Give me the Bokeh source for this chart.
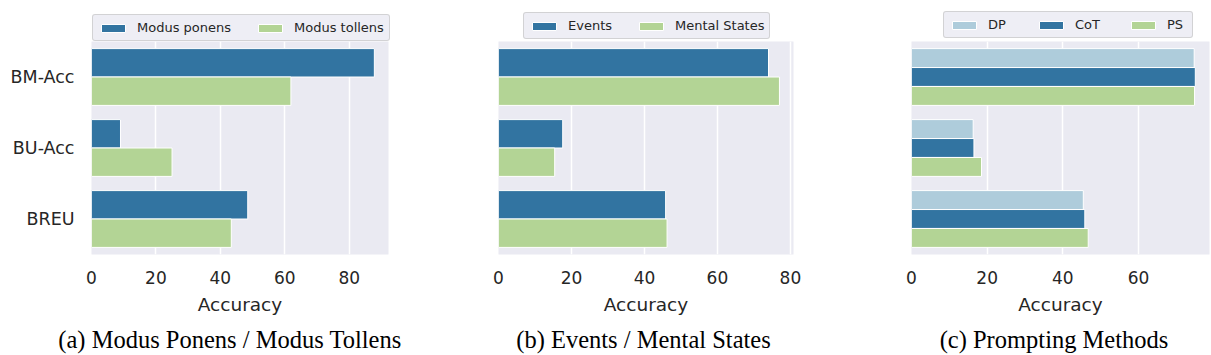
from bokeh.plotting import figure
from bokeh.models import (ColumnDataSource, FactorRange, Range1d, Legend, LegendItem,
                          Label, SingleIntervalTicker)
from bokeh.transform import dodge
from bokeh.layouts import row, column
from bokeh.embed import file_html
from bokeh.resources import INLINE

# ---------------- data ----------------
categories = ["BM-Acc", "BU-Acc", "BREU"]

# (a) Modus Ponens / Modus Tollens
modus_ponens = [87.8, 9.0, 48.5]
modus_tollens = [61.9, 25.0, 43.4]

# (b) Events / Mental States
events = [74.0, 17.6, 45.8]
mental_states = [77.0, 15.4, 46.2]

# (c) Prompting Methods
dp = [74.7, 16.3, 45.4]
cot = [75.0, 16.5, 45.8]
ps = [74.8, 18.5, 46.7]

captions = ["(a) Modus Ponens / Modus Tollens", "(b) Events / Mental States", "(c) Prompting Methods"]
x_label = "Accuracy"

BLUE = "#3274a1"
GREEN = "#b3d495"
LIGHTBLUE = "#aeccdb"
TEXT = "#262626"
SANS = "DejaVu Sans"

TOTAL_W = 1211
LEG_H = 41        # strip holding the legends
CAP_H = 30        # strip holding the captions
MAIN_H = 355 - LEG_H - CAP_H
FRAME_H = 213

panels = [
    dict(series=[modus_ponens, modus_tollens], names=["Modus ponens", "Modus tollens"],
         colors=[BLUE, GREEN], show_y=True, width=405, bl=91, br=17,
         leg=(92, 0), leg_spacing=24, cap_x=229.5),
    dict(series=[events, mental_states], names=["Events", "Mental States"],
         colors=[BLUE, GREEN], show_y=False, width=400, bl=93, br=12,
         leg=(523, 2), leg_spacing=24, cap_x=643),
    dict(series=[dp, cot, ps], names=["DP", "CoT", "PS"],
         colors=[LIGHTBLUE, BLUE, GREEN], show_y=False, width=406, bl=106, br=2,
         leg=(943, 3), leg_spacing=28, cap_x=1053.5),
]


def strip_fig(height, y_range):
    f = figure(width=TOTAL_W, height=height, title=None,
               x_range=Range1d(-2, -1), y_range=y_range,
               x_axis_location=None, y_axis_location=None,
               output_backend="svg", toolbar_location=None,
               min_border_left=0, min_border_right=0,
               min_border_top=0, min_border_bottom=0)
    f.outline_line_color = None
    f.background_fill_color = "white"
    f.border_fill_color = "white"
    f.grid.visible = False
    return f


def make_source(series):
    data = dict(cat=categories)
    for i, s in enumerate(series):
        data[f"s{i}"] = s
    return ColumnDataSource(data)


# ---------------- legend strip ----------------
leg_fig = strip_fig(LEG_H, FactorRange(factors=categories))
for pnl in panels:
    src = make_source(pnl["series"])
    items = []
    for i, (name, color) in enumerate(zip(pnl["names"], pnl["colors"])):
        # same bars, drawn outside this strip's visible x-range: only the legend keys show
        r = leg_fig.hbar(y="cat", left=0, right=f"s{i}", height=0.5, source=src,
                         fill_color=color, line_color="white", line_width=1)
        items.append(LegendItem(label=name, renderers=[r]))
    leg = Legend(items=items, orientation="horizontal", location=pnl["leg"],
                 padding=5, spacing=pnl["leg_spacing"], label_standoff=9, glyph_width=30,
                 glyph_height=10, label_height=13, margin=0,
                 label_text_font=SANS, label_text_font_size="13px",
                 label_text_color=TEXT, background_fill_color="#eaeaf2",
                 background_fill_alpha=0.8, border_line_color="#cccccc",
                 border_line_alpha=0.8)
    if "border_radius" in Legend.properties():
        leg.border_radius = 3
    leg_fig.add_layout(leg)


# ---------------- main axes ----------------
def make_main(pnl):
    series = pnl["series"]
    xmax = max(max(s) for s in series) * 1.05
    p = figure(width=pnl["width"], height=MAIN_H, title=None,
               y_range=FactorRange(factors=categories[::-1]),
               x_range=Range1d(0, xmax),
               output_backend="svg", toolbar_location=None,
               min_border_left=pnl["bl"], min_border_right=pnl["br"],
               min_border_top=0, min_border_bottom=MAIN_H - FRAME_H)
    p.background_fill_color = "#eaeaf2"
    p.border_fill_color = "white"
    p.outline_line_color = None

    n = len(series)
    bar_h = 0.8 / n
    src = make_source(series)
    for i, color in enumerate(pnl["colors"]):
        off = 0.4 - bar_h * (i + 0.5)
        p.hbar(y=dodge("cat", off, range=p.y_range), left=0, right=f"s{i}",
               height=bar_h, source=src, fill_color=color,
               line_color="white", line_width=1)

    p.xaxis.ticker = SingleIntervalTicker(interval=20, num_minor_ticks=0)
    p.xaxis.axis_label = x_label
    p.xaxis.axis_label_text_font = SANS
    p.xaxis.axis_label_text_font_size = "18.5px"
    p.xaxis.axis_label_text_font_style = "normal"
    p.xaxis.axis_label_text_color = TEXT
    p.xaxis.axis_label_standoff = 7
    p.xaxis.major_label_text_font = SANS
    p.xaxis.major_label_text_font_size = "17px"
    p.xaxis.major_label_text_color = TEXT
    p.xaxis.major_tick_out = 0
    p.xaxis.major_label_standoff = 16
    p.xaxis.axis_line_color = None
    p.xaxis.major_tick_line_color = None
    p.xaxis.minor_tick_line_color = None

    if pnl["show_y"]:
        p.yaxis.major_label_text_font = SANS
        p.yaxis.major_label_text_font_size = "17.5px"
        p.yaxis.major_label_text_color = TEXT
        p.yaxis.major_tick_out = 0
        p.yaxis.major_label_standoff = 17
        p.yaxis.axis_line_color = None
        p.yaxis.major_tick_line_color = None
        p.yaxis.minor_tick_line_color = None
    else:
        p.yaxis.visible = False

    p.xgrid.grid_line_color = "white"
    p.xgrid.grid_line_width = 1.5
    p.ygrid.grid_line_color = None
    return p


mains = [make_main(pnl) for pnl in panels]

# ---------------- caption strip ----------------
cap_fig = strip_fig(CAP_H, Range1d(0, 1))
for pnl, cap in zip(panels, captions):
    cap_fig.add_layout(Label(x=pnl["cap_x"], y=16, x_units="screen", y_units="screen",
                             text=cap, text_font="Liberation Serif",
                             text_font_size="24.5px", text_align="center",
                             text_baseline="alphabetic", text_color="black"))

layout = column(leg_fig, row(*mains), cap_fig)
open("out.html", "w").write(file_html(layout, INLINE))
